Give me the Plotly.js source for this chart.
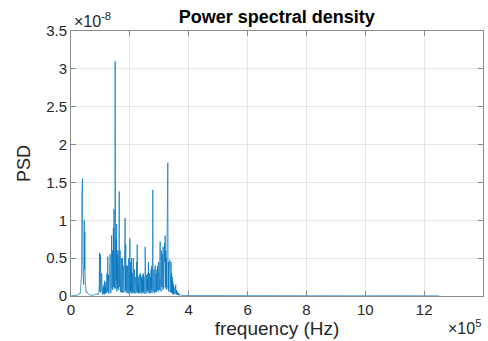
<!DOCTYPE html>
<html>
<head>
<meta charset="utf-8">
<script src="https://cdn.plot.ly/plotly-3.0.1.min.js"></script>
<style>html,body{margin:0;padding:0;background:#fff;}#chart{width:488px;height:341px;}</style>
</head>
<body>
<div id="chart"></div>
<script>
// Frequency in units of 1e5 Hz, PSD in units of 1e-8.
// Dense segment: uniform frequency bins starting at 0 with step 0.01
const denseStart = 0.0;
const denseStep = 0.01;
const densePSD = [
  0.001,0.002,0.002,0.003,0.002,0.003,0.004,0.003,0.004,0.005,
  0.004,0.005,0.006,0.005,0.006,0.007,0.006,0.008,0.007,0.009,
  0.01,0.012,0.011,0.015,0.013,0.02,0.018,0.025,0.03,0.028,
  0.04,0.035,0.06,0.12,0.08,0.15,0.3,1.37,0.6,1.55,
  0.5,0.3,0.22,0.15,0.4,1.0,0.35,0.85,0.25,0.12,
  0.08,0.06,0.07,0.05,0.06,0.04,0.05,0.03,0.04,0.03,
  0.025,0.02,0.02,0.015,0.018,0.012,0.015,0.01,0.012,0.01,
  0.01,0.008,0.01,0.009,0.008,0.01,0.009,0.011,0.01,0.012,
  0.012,0.015,0.013,0.018,0.02,0.025,0.03,0.02,0.025,0.03,
  0.02,0.03,0.02,0.04,0.03,0.05,0.15,0.57,0.05,0.35,
  0.55,0.05,0.4,0.08,0.3,0.03,0.18,0.02,0.1,0.04,
  0.12,0.03,0.15,0.02,0.2,0.05,0.12,0.03,0.18,0.06,
  0.15,0.04,0.3,0.06,0.2,0.52,0.05,0.1,0.28,0.03,
  0.22,0.05,0.35,0.55,0.08,0.3,0.04,0.45,0.8,0.1,
  0.4,0.6,0.08,0.5,0.9,0.12,1.15,0.6,0.1,0.7,
  3.1,0.9,0.1,0.75,0.2,0.95,0.06,0.55,0.1,0.6,
  0.15,0.5,0.08,1.1,1.38,0.12,0.3,0.6,0.05,0.45,
  0.08,0.5,0.05,0.35,0.1,0.5,0.04,0.4,0.08,0.3,
  0.05,0.45,0.1,0.6,1.03,0.08,0.68,0.05,0.4,0.06,
  0.3,0.04,0.4,0.07,0.35,0.03,0.5,0.08,0.3,0.05,
  0.76,0.06,0.45,0.04,0.35,0.08,0.5,0.03,0.3,0.05,
  0.25,0.08,0.5,0.04,0.3,0.06,0.35,0.03,0.25,0.07,
  0.18,0.04,0.2,0.45,0.06,0.68,0.1,0.04,0.25,0.05,
  0.12,0.03,0.28,0.05,0.25,0.08,0.3,0.04,0.2,0.06,
  0.25,0.03,0.28,0.07,0.22,0.04,0.3,0.06,0.25,0.03,
  0.2,0.06,0.65,0.05,0.25,0.03,0.28,0.07,0.1,0.22,
  0.05,0.3,0.08,0.45,0.04,0.25,0.06,0.3,0.03,0.2,
  0.25,0.05,0.35,0.08,0.4,0.04,0.3,0.1,1.4,0.06,
  0.2,0.07,0.35,0.04,0.3,0.08,0.4,0.05,0.3,0.1,
  0.3,0.05,0.35,0.08,0.4,0.1,0.3,0.06,0.45,0.12,
  0.35,0.08,0.5,0.72,0.1,0.45,0.06,0.6,0.12,0.4,
  0.3,0.55,0.08,0.65,0.4,0.1,0.5,0.15,0.7,0.45,
  0.8,0.12,0.6,0.1,0.5,0.08,0.45,0.15,0.6,1.76,
  0.1,0.45,0.06,0.35,0.4,0.08,0.48,0.05,0.2,0.35,
  0.45,0.05,0.3,0.04,0.25,0.03,0.2,0.02,0.15,0.03,
  0.12,0.03,0.1,0.02,0.05,0.1,0.15,0.03,0.08,0.02,
  0.06,0.02,0.05,0.015,0.04,0.01,0.02,0.03,0.01,0.02,
  0.015,0.02,0.012,0.01,0.012,0.01,0.008,0.01,0.008,0.007,
  0.006
];
// Tail segment: bins from 4.0 to 12.5 with step 0.5
const tailStart = 4.0;
const tailStep = 0.5;
const tailPSD = [0.005,0.004,0.004,0.003,0.006,0.003,0.004,0.003,0.003,0.004,0.003,0.003,0.002,0.003,0.002,0.002,0.002,0.002];

const xTicks = [0,2,4,6,8,10,12,14];
const yTicks = [0,0.5,1,1.5,2,2.5,3,3.5];
const yTickText = ['0','0.5','1','1.5','2','2.5','3','3.5'];

const freq = [], psd = [];
densePSD.forEach((v,i)=>{ freq.push(+(denseStart + i*denseStep).toFixed(4)); psd.push(v); });
tailPSD.forEach((v,i)=>{ freq.push(+(tailStart + i*tailStep).toFixed(4)); psd.push(v); });

const font = 'Liberation Sans, Arial, Helvetica, sans-serif';
const axisCol = '#8a8a8a';
const textCol = '#262626';

const trace = {
  x: freq, y: psd, type: 'scatter', mode: 'lines',
  line: {color: '#0072BD', width: 0.7}, hoverinfo: 'skip'
};

const axBase = {
  showline: true, linecolor: axisCol, linewidth: 1, mirror: 'ticks',
  ticks: 'inside', ticklen: 5, tickcolor: axisCol, tickwidth: 1,
  showgrid: true, gridcolor: '#e5e5e5', gridwidth: 1, zeroline: false,
  tickfont: {family: font, size: 15, color: textCol}
};

const layout = {
  width: 488, height: 341,
  margin: {l: 71, r: 5, t: 31, b: 45},
  paper_bgcolor: '#fff', plot_bgcolor: '#fff',
  showlegend: false,
  title: {text: '<b>Power spectral density</b>', font: {family: font, size: 18, color: '#000'},
          x: 0.567, xanchor: 'center', y: 0.95, yanchor: 'middle'},
  xaxis: Object.assign({}, axBase, {
    range: [0,14], tickvals: xTicks, ticktext: xTicks.map(String),
    title: {text: 'frequency (Hz)', font: {family: font, size: 19, color: textCol}, standoff: 2}
  }),
  yaxis: Object.assign({}, axBase, {
    range: [0,3.5], tickvals: yTicks, ticktext: yTickText,
    title: {text: 'PSD', font: {family: font, size: 18, color: textCol}, standoff: 10}
  }),
  annotations: [
    {xref: 'paper', yref: 'paper', x: 0.0, y: 1.0, xanchor: 'left', yanchor: 'bottom', showarrow: false,
     text: '×10<sup>-8</sup>', font: {family: font, size: 16, color: textCol}, xshift: 1, yshift: -1},
    {xref: 'paper', yref: 'paper', x: 1.0, y: 0, xanchor: 'right', yanchor: 'top', showarrow: false,
     text: '×10<sup>5</sup>', font: {family: font, size: 16, color: textCol}, yshift: -19}
  ]
};

Plotly.newPlot('chart', [trace], layout, {staticPlot: true, displayModeBar: false});
</script>
</body>
</html>
